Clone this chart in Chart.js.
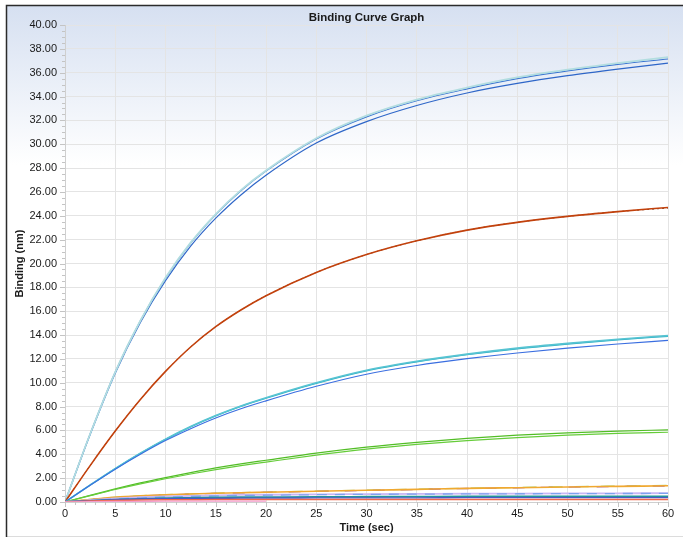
<!DOCTYPE html>
<html>
<head>
<meta charset="utf-8">
<title>Binding Curve Graph</title>
<script src="https://cdn.jsdelivr.net/npm/chart.js@4/dist/chart.umd.min.js"></script>
<style>
  html, body { margin: 0; padding: 0; background: #fff; }
  #wrap { width: 683px; height: 539px; }
</style>
</head>
<body>
<div id="wrap"><canvas id="bindingChart" width="683" height="539"></canvas></div>
<script>
const times = [0, 2.5, 5, 7.5, 10, 12.5, 15, 17.5, 20, 25, 30, 35, 40, 45, 50, 55, 60];

// fast association (top pair)
const blueHalo  = [0, 5.7, 10.9, 15.2, 18.8, 21.75, 24.15, 26.15, 27.8, 30.5, 32.4, 33.75, 34.75, 35.6, 36.25, 36.8, 37.3];
const blueUpper = [0, 5.7, 10.9, 15.2, 18.75, 21.7, 24.1, 26.1, 27.75, 30.45, 32.3, 33.65, 34.65, 35.5, 36.15, 36.7, 37.15];
const blueLower = [0, 5.65, 10.8, 15.05, 18.55, 21.45, 23.8, 25.75, 27.4, 30.1, 31.9, 33.25, 34.3, 35.1, 35.75, 36.3, 36.8];

const brownMain = [0, 3.05, 5.95, 8.6, 10.95, 13.0, 14.7, 16.1, 17.3, 19.25, 20.75, 21.9, 22.8, 23.45, 23.95, 24.35, 24.7];
const brownDark = [0, 3.05, 5.95, 8.6, 10.95, 13.0, 14.7, 16.1, 17.3, 19.25, 20.75, 21.9, 22.8, 23.45, 23.95, 24.35, 24.65];

const cyanMain  = [0, 1.42, 2.8, 4.08, 5.25, 6.3, 7.22, 8.02, 8.7, 9.95, 11.0, 11.75, 12.35, 12.85, 13.25, 13.6, 13.9];
const cyanSoft  = [0, 1.42, 2.8, 4.09, 5.27, 6.33, 7.25, 8.06, 8.75, 10.0, 11.05, 11.8, 12.4, 12.9, 13.3, 13.65, 13.95];
const cyanBlue  = [0, 1.4, 2.75, 4.0, 5.15, 6.15, 7.05, 7.82, 8.48, 9.7, 10.72, 11.45, 12.02, 12.5, 12.9, 13.25, 13.55];

const greenUpper = [0, 0.56, 1.1, 1.6, 2.05, 2.47, 2.86, 3.2, 3.5, 4.1, 4.6, 5.0, 5.33, 5.6, 5.8, 5.95, 6.05];
const greenLower = [0, 0.53, 1.05, 1.52, 1.95, 2.35, 2.72, 3.05, 3.35, 3.93, 4.43, 4.83, 5.15, 5.4, 5.6, 5.75, 5.85];

// weak binders near baseline
const amber     = [0, 0.21, 0.39, 0.51, 0.6, 0.67, 0.73, 0.78, 0.82, 0.9, 0.98, 1.06, 1.14, 1.2, 1.26, 1.31, 1.36];
const violet    = [0, 0.2, 0.38, 0.5, 0.59, 0.66, 0.72, 0.77, 0.81, 0.89, 0.97, 1.05, 1.13, 1.19, 1.25, 1.3, 1.34];
const lime      = [0, 0.21, 0.4, 0.52, 0.61, 0.68, 0.74, 0.79, 0.83, 0.91, 0.99, 1.08, 1.16, 1.22, 1.28, 1.33, 1.39];
const lavender  = [0, 0.16, 0.3, 0.4, 0.47, 0.52, 0.56, 0.59, 0.61, 0.64, 0.66, 0.68, 0.7, 0.71, 0.72, 0.73, 0.74];
const skyBlue   = [0, 0.13, 0.25, 0.35, 0.42, 0.47, 0.51, 0.55, 0.57, 0.61, 0.64, 0.66, 0.68, 0.69, 0.7, 0.71, 0.72];
const navy      = [0, 0.12, 0.2, 0.25, 0.28, 0.3, 0.31, 0.32, 0.33, 0.34, 0.35, 0.35, 0.36, 0.36, 0.37, 0.37, 0.37];
const teal      = [0, 0.1, 0.2, 0.27, 0.32, 0.35, 0.38, 0.4, 0.41, 0.43, 0.44, 0.45, 0.46, 0.46, 0.47, 0.47, 0.48];
const coral     = [0, 0.08, 0.13, 0.16, 0.18, 0.19, 0.2, 0.2, 0.21, 0.21, 0.21, 0.22, 0.22, 0.22, 0.22, 0.22, 0.22];
const pink      = [0, 0.03, 0.05, 0.06, 0.07, 0.07, 0.08, 0.08, 0.08, null, null, null, null, null, null, null, null];

const yTicksMin = 0, yTicksMax = 40, yStep = 2;
const xTicksMin = 0, xTicksMax = 60, xStep = 5;

function dataset(label, values, color, extra = {}) {
  return Object.assign({
    label,
    data: values.map((v, i) => ({ x: times[i], y: v })),
    borderColor: color,
    backgroundColor: color,
    borderWidth: 1.3,
    pointRadius: 0,
    fill: false,
    spanGaps: false,
    cubicInterpolationMode: 'monotone'
  }, extra);
}

const framePlugin = {
  id: 'frame',
  beforeDraw(chart) {
    const { ctx, width, height } = chart;
    ctx.save();
    ctx.fillStyle = '#ffffff';
    ctx.fillRect(0, 0, width, height);
    const g = ctx.createLinearGradient(0, 6, 0, 165);
    g.addColorStop(0, '#d6e0f1');
    g.addColorStop(1, '#ffffff');
    ctx.fillStyle = g;
    ctx.fillRect(7, 6, width - 7, height - 9);
    ctx.strokeStyle = '#dcdcdc';
    ctx.lineWidth = 1;
    ctx.beginPath();
    ctx.moveTo(7, 536.5);
    ctx.lineTo(width, 536.5);
    ctx.stroke();
    ctx.strokeStyle = '#2b2b2b';
    ctx.lineWidth = 1.5;
    ctx.beginPath();
    ctx.moveTo(6.5, 537);
    ctx.lineTo(6.5, 5.5);
    ctx.lineTo(width, 5.5);
    ctx.stroke();
    ctx.restore();
  },
  afterDraw(chart) {
    const { ctx, chartArea, scales } = chart;
    ctx.save();
    ctx.strokeStyle = '#c4c4c4';
    ctx.lineWidth = 1;
    ctx.beginPath();
    for (let v = yTicksMin; v <= yTicksMax; v += 0.5) {
      const py = Math.round(scales.y.getPixelForValue(v)) + 0.5;
      const len = v % yStep === 0 ? 5 : 3;
      ctx.moveTo(chartArea.left - len, py);
      ctx.lineTo(chartArea.left, py);
    }
    for (let t = xTicksMin; t <= xTicksMax; t += 1) {
      const px = Math.round(scales.x.getPixelForValue(t)) + 0.5;
      const len = t % xStep === 0 ? 5 : 3;
      ctx.moveTo(px, chartArea.bottom);
      ctx.lineTo(px, chartArea.bottom + len);
    }
    ctx.stroke();
    ctx.fillStyle = '#1a1a1a';
    ctx.font = 'bold 11.5px "Liberation Sans", Arial, sans-serif';
    ctx.textAlign = 'center';
    ctx.textBaseline = 'middle';
    ctx.fillText('Binding Curve Graph', (chartArea.left + chartArea.right) / 2, 17.5);
    ctx.restore();
  }
};

const tickFont = { family: '"Liberation Sans", Arial, sans-serif', size: 11 };
const titleFont = { family: '"Liberation Sans", Arial, sans-serif', size: 11, weight: 'bold' };

new Chart(document.getElementById('bindingChart'), {
  type: 'line',
  data: {
    datasets: [
      dataset('pink', pink, '#f39ccb'),
      dataset('coral', coral, '#ef6a4c', { borderWidth: 1.5 }),
      dataset('navy', navy, '#4b58c6'),
      dataset('teal', teal, '#23939a', { borderWidth: 1.8 }),
      dataset('skyBlue', skyBlue, '#7ea2ee', { borderDash: [10, 8] }),
      dataset('lavender', lavender, '#c9b6f5', { borderWidth: 1.8 }),
      dataset('amber', amber, '#f0a830', { borderWidth: 1.6 }),
      dataset('violet', violet, '#a45cb8', { borderDash: [12, 16] }),
      dataset('lime', lime, '#a6d06a', { borderDash: [14, 12], borderDashOffset: 10 }),
      dataset('greenLower', greenLower, '#66cc3a', { borderWidth: 1.2 }),
      dataset('greenUpper', greenUpper, '#52bd26', { borderWidth: 1.2 }),
      dataset('cyanBlue', cyanBlue, '#3a6ee0', { borderWidth: 1.1 }),
      dataset('cyanSoft', cyanSoft, '#58c4d2', { borderWidth: 1.6 }),
      dataset('cyanMain', cyanMain, '#2aaec4', { borderWidth: 1.3 }),
      dataset('brownMain', brownMain, '#c2410c', { borderWidth: 1.6 }),
      dataset('brownDark', brownDark, '#5e3a22', { borderWidth: 1, borderDash: [2, 3] }),
      dataset('blueHalo', blueHalo, '#b2dde0', { borderWidth: 1.8 }),
      dataset('blueLower', blueLower, '#2e66c8', { borderWidth: 1.2 }),
      dataset('blueUpper', blueUpper, '#3a75d1', { borderWidth: 1.2 })
    ]
  },
  options: {
    responsive: false,
    devicePixelRatio: 1,
    animation: false,
    layout: { padding: { top: 25, right: 15, left: 0, bottom: 0 } },
    plugins: {
      legend: { display: false },
      tooltip: { enabled: false },
      title: { display: false }
    },
    scales: {
      x: {
        type: 'linear',
        min: xTicksMin,
        max: xTicksMax,
        afterFit(scale) { scale.height = 37; },
        ticks: { stepSize: xStep, font: tickFont, color: '#1a1a1a', padding: 5, maxRotation: 0 },
        grid: { color: '#e4e4e4', drawTicks: false },
        border: { color: '#cfcfcf' },
        title: { display: true, text: 'Time (sec)', font: titleFont, color: '#1a1a1a', padding: { top: 0, bottom: 4 } }
      },
      y: {
        type: 'linear',
        min: yTicksMin,
        max: yTicksMax,
        afterFit(scale) { scale.width = 65; },
        ticks: { stepSize: yStep, font: tickFont, color: '#1a1a1a', padding: 8, callback: v => v.toFixed(2) },
        grid: { color: '#e4e4e4', drawTicks: false },
        border: { color: '#cfcfcf' },
        title: { display: true, text: 'Binding (nm)', font: titleFont, color: '#1a1a1a', padding: { top: 13, bottom: 0 } }
      }
    }
  },
  plugins: [framePlugin]
});
</script>
</body>
</html>
